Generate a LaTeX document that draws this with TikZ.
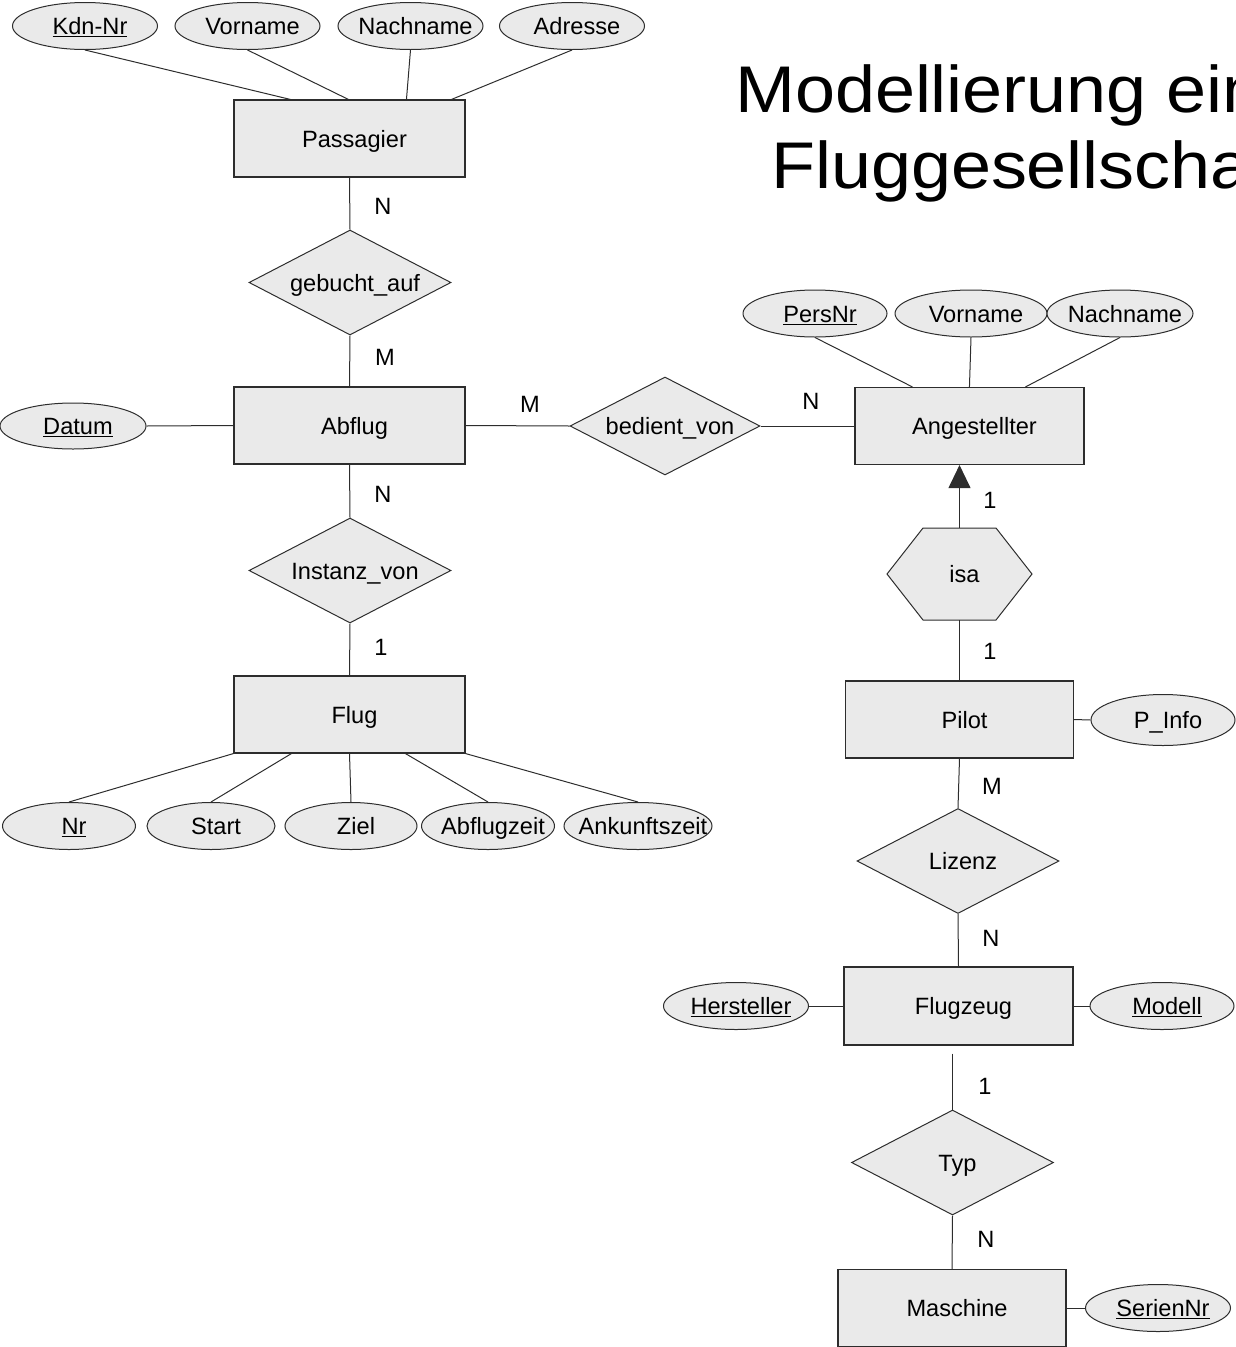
\documentclass[tikz,border=0pt]{standalone}
\usepackage{fontspec}
\usepackage{graphicx}
\setmainfont{Liberation Sans}
\usetikzlibrary{shapes.geometric,arrows.meta}
\definecolor{efill}{RGB}{234,234,234}
\definecolor{eline}{RGB}{45,45,45}
\begin{document}
\begin{tikzpicture}[x=1pt,y=-1pt,
  lf/.style={font=\fontsize{23.6}{28}\selectfont},
  tf/.style={lf,text height=21.6pt,text depth=4pt,execute at begin node={\hspace*{10pt}}},
  entity/.style={tf,rectangle,draw=eline,fill=efill,line width=1.1pt,minimum width=231pt,minimum height=77pt,inner sep=0pt},
  rel/.style={tf,diamond,draw=eline,fill=efill,line width=1pt,minimum width=202pt,minimum height=105pt,inner sep=0pt,aspect=2},
  attr/.style={tf,ellipse,draw=eline,fill=efill,line width=1pt,minimum width=145pt,minimum height=47pt,inner sep=0pt},
  card/.style={lf,inner sep=0pt},
  conn/.style={draw=eline,line width=1pt},
  hexbox/.style={tf,rectangle,minimum width=145pt,minimum height=92pt,inner sep=0pt}]
\useasboundingbox (0,0) rectangle (1236,1347);
\clip (0,0) rectangle (1236,1347);

% title
\node[anchor=base,align=center,inner sep=0pt,font=\fontsize{66}{75.5}\selectfont] (title) at (1031,188)
  {\scalebox{1.09}[1]{Modellierung einer}\\\scalebox{1.09}[1]{Fluggesellschaft}};

% left column
\node[entity] (pas) at (349.5,138.5) {Passagier};
\node[attr] (kdn) at (85,26) {\makebox[0pt]{\underline{Kdn-Nr}}};
\node[attr] (pvor) at (247.5,26) {\makebox[0pt]{Vorname}};
\node[attr] (pnach) at (410.5,26) {\makebox[0pt]{Nachname}};
\node[attr] (adr) at (572,26) {\makebox[0pt]{Adresse}};
\node[rel] (geb) at (350,282.5) {\makebox[0pt]{gebucht\_auf}};
\node[entity] (abf) at (349.5,425.5) {Abflug};
\node[attr,minimum width=146pt,minimum height=46pt] (dat) at (73,426) {\makebox[0pt]{\underline{Datum}}};
\node[rel] (inst) at (350,570.5) {\makebox[0pt]{Instanz\_von}};
\node[entity] (flug) at (349.5,714.5) {Flug};
\node[attr,minimum width=133pt] (nr) at (69,826) {\makebox[0pt]{\underline{Nr}}};
\node[attr,minimum width=128pt] (start) at (211,826) {\makebox[0pt]{Start}};
\node[attr,minimum width=132pt] (ziel) at (351,826) {\makebox[0pt]{Ziel}};
\node[attr,minimum width=133pt] (abz) at (488,826) {\makebox[0pt]{Abflugzeit}};
\node[attr,minimum width=148pt] (ank) at (638,826) {\makebox[0pt]{Ankunftszeit}};

% middle
\node[rel,minimum width=190pt,minimum height=98pt] (bed) at (665,426) {\makebox[0pt]{bedient\_von}};

% right column
\node[entity,minimum width=229pt] (ang) at (969.5,426) {Angestellter};
\node[attr,minimum width=144pt] (pers) at (815,313.5) {\makebox[0pt]{\underline{PersNr}}};
\node[attr,minimum width=152pt] (avor) at (971,313.5) {\makebox[0pt]{Vorname}};
\node[attr,minimum width=146pt] (anach) at (1120,313.5) {\makebox[0pt]{Nachname}};
\coordinate (isac) at (959.5,574);
\draw[draw=eline,fill=efill,line width=1pt]
  ([xshift=-72.5pt]isac) -- ([xshift=-36.5pt,yshift=46pt]isac) -- ([xshift=36.5pt,yshift=46pt]isac)
  -- ([xshift=72.5pt]isac) -- ([xshift=36.5pt,yshift=-46pt]isac) -- ([xshift=-36.5pt,yshift=-46pt]isac) -- cycle;
\node[hexbox] (isa) at (isac) {isa};
\node[entity,minimum width=228pt] (pil) at (959.5,719.5) {Pilot};
\node[attr,minimum width=144pt,minimum height=51pt] (pinfo) at (1163,720) {\makebox[0pt]{P\_Info}};
\node[rel] (liz) at (958,861) {\makebox[0pt]{Lizenz}};
\node[entity,minimum width=229pt,minimum height=78pt] (fz) at (958.5,1006) {Flugzeug};
\node[attr] (her) at (736,1006) {\makebox[0pt]{\underline{Hersteller}}};
\node[attr,minimum width=144pt] (mod) at (1162,1006) {\makebox[0pt]{\underline{Modell}}};
\node[rel] (typ) at (952.5,1162.5) {\makebox[0pt]{Typ}};
\node[entity,minimum width=228pt] (masch) at (952,1308) {Maschine};
\node[attr] (ser) at (1158,1308) {\makebox[0pt]{\underline{SerienNr}}};

% connectors
\draw[conn] (kdn.south) -- ([xshift=57pt]pas.north west);
\draw[conn] (pvor.south) -- ([xshift=115pt]pas.north west);
\draw[conn] (pnach.south) -- ([xshift=173pt]pas.north west);
\draw[conn] (adr.south) -- ([xshift=218pt]pas.north west);
\draw[conn] (pas.south) -- (geb.north);
\draw[conn] (geb.south) -- (abf.north);
\draw[conn] (dat.east) -- (abf.west);
\draw[conn] (abf.south) -- (inst.north);
\draw[conn] (inst.south) -- (flug.north);
\draw[conn] (nr.north) -- (flug.south west);
\draw[conn] (start.north) -- ([xshift=58pt]flug.south west);
\draw[conn] (ziel.north) -- (flug.south);
\draw[conn] (abz.north) -- ([xshift=172pt]flug.south west);
\draw[conn] (ank.north) -- (flug.south east);
\draw[conn] (abf.east) -- (bed.west);
\draw[conn] (bed.east) -- (ang.west);
\draw[conn] (pers.south) -- ([xshift=58pt]ang.north west);
\draw[conn] (avor.south) -- ([xshift=115pt]ang.north west);
\draw[conn] (anach.south) -- ([xshift=171pt]ang.north west);
\draw[conn,-{Triangle[width=22pt,length=23pt]}] (isa.north) -- (isa.north |- ang.south);
\draw[conn] (isa.south) -- (isa.south |- pil.north);
\draw[conn] (pil.east) -- (pinfo.west);
\draw[conn] (pil.south) -- (liz.north);
\draw[conn] (liz.south) -- (fz.north);
\draw[conn] (her.east) -- (fz.west);
\draw[conn] (fz.east) -- (mod.west);
\draw[conn,shorten <=8pt] (typ.north |- fz.south) -- (typ.north);
\draw[conn] (typ.south) -- (masch.north);
\draw[conn] (masch.east) -- (ser.west);

% cardinalities
\node[card] (c1) at (383,206) {N};
\node[card] (c2) at (385,357) {M};
\node[card] (c3) at (530,404) {M};
\node[card] (c4) at (811,401) {N};
\node[card] (c5) at (383,494) {N};
\node[card] (c6) at (381,647) {1};
\node[card] (c7) at (990,500) {1};
\node[card] (c8) at (990,651) {1};
\node[card] (c9) at (992,786) {M};
\node[card] (c10) at (991,938) {N};
\node[card] (c11) at (985,1086) {1};
\node[card] (c12) at (986,1239) {N};
\end{tikzpicture}
\end{document}
